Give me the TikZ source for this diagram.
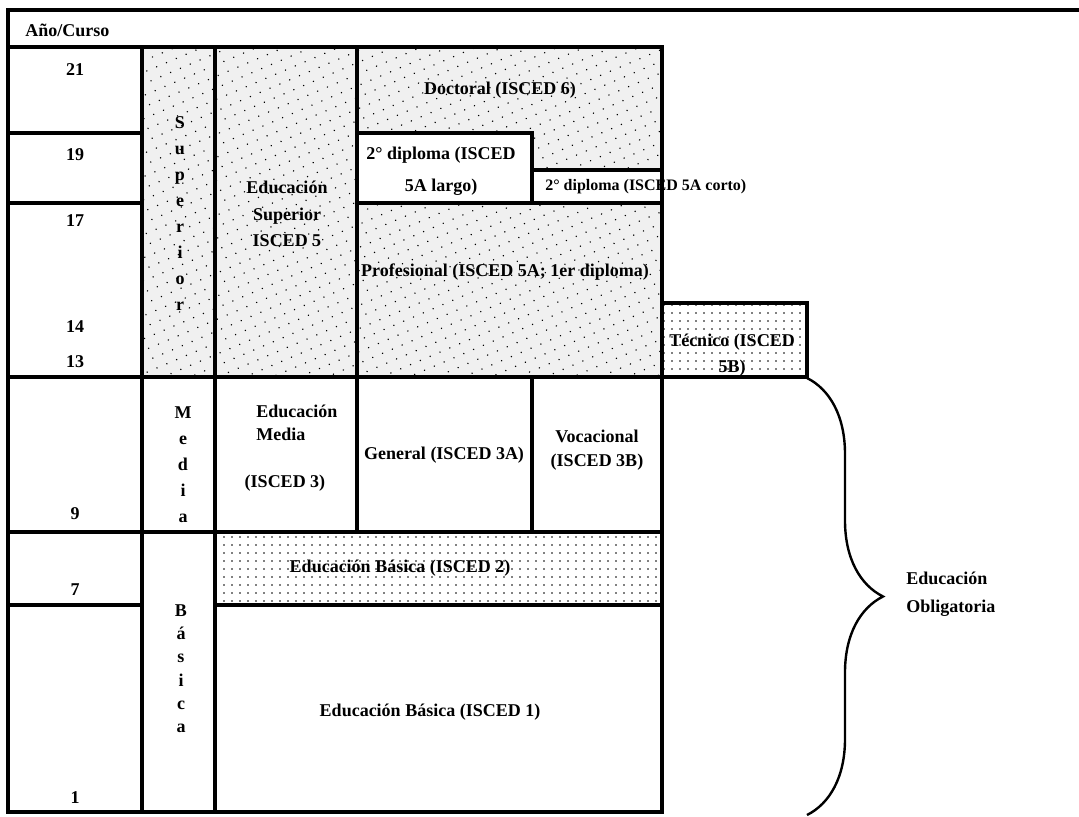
\documentclass[tikz,border=0pt]{standalone}
\usepackage{fontspec}
\setmainfont{Liberation Serif}
\usetikzlibrary{patterns.meta,decorations.pathreplacing}
\tikzset{
  cell/.style={draw, line width=3pt},
  stipple/.style={cell, preaction={fill=black!6}, pattern={Dots[distance=8pt,radius=.6pt,angle=23]}},
  dotfill/.style={cell, pattern={Dots[distance=6pt,radius=.7pt]}},
  lbl/.style={font=\bfseries\fontsize{13.5}{19}\selectfont, align=center, inner sep=0pt},
}
\begin{document}
\begin{tikzpicture}[x=0.75pt,y=-0.75pt]
            \useasboundingbox (0,0) rectangle (1079,817);
            \draw[cell] (1079,10) -- (8,10) -- (8,47) -- (662,47);
            \draw[cell] (8,47) rectangle (142,133);
            \draw[cell] (8,133) rectangle (142,203);
            \draw[cell] (8,203) rectangle (142,377);
            \draw[cell] (8,377) rectangle (142,532);
            \draw[cell] (8,532) rectangle (142,605);
            \draw[cell] (8,605) rectangle (142,812);
            \draw[stipple] (142,47) rectangle (215,377);
            \draw[cell] (142,377) rectangle (215,532);
            \draw[cell] (142,532) rectangle (215,812);
            \draw[stipple] (215,47) rectangle (357,377);
            \draw[cell] (215,377) rectangle (357,532);
            \draw[dotfill] (215,532) rectangle (662,605);
            \draw[cell] (215,605) rectangle (662,812);
            \draw[stipple] (357,47) rectangle (662,203);
            \draw[cell,fill=white] (357,133) rectangle (532,203);
            \draw[cell,fill=white] (532,170) rectangle (662,203);
            \draw[stipple] (357,203) rectangle (662,377);
            \draw[dotfill] (662,303) rectangle (807,377);
            \draw[cell] (357,377) rectangle (532,532);
            \draw[cell] (532,377) rectangle (662,532);
            \node[lbl,anchor=west] (curso) at (25,30) {Año/Curso};
            \node[lbl] (y21) at (75,70) {21};
            \node[lbl] (y19) at (75,155) {19};
            \node[lbl] (y17) at (75,221) {17};
            \node[lbl] (y14) at (75,327) {14};
            \node[lbl] (y13) at (75,362) {13};
            \node[lbl] (y9) at (75,514) {9};
            \node[lbl] (y7) at (75,590) {7};
            \node[lbl] (y1) at (75,798) {1};
            \node[lbl,anchor=north,font=\bfseries\fontsize{13.5}{19.5}\selectfont] (sup) at (180,116) {S\\u\\p\\e\\r\\i\\o\\r};
            \node[lbl,anchor=north,font=\bfseries\fontsize{13.5}{19.5}\selectfont] (med) at (183,406) {M\\e\\d\\i\\a};
            \node[lbl,anchor=north,font=\bfseries\fontsize{13.5}{17.5}\selectfont] (bas) at (181,604) {B\\á\\s\\i\\c\\a};
            \node[lbl,font=\bfseries\fontsize{13.5}{20}\selectfont] (edsup) at (287,214) {Educación\\Superior\\ISCED 5};
            \node[lbl] (doct) at (500,90) {Doctoral (ISCED 6)};
            \node[lbl,font=\bfseries\fontsize{13.5}{24}\selectfont] (largo) at (441,171) {2° diploma (ISCED\\5A largo)};
            \node[lbl,anchor=west,font=\bfseries\fontsize{12}{14}\selectfont] (corto) at (545,187) {2° diploma (ISCED 5A corto)};
            \node[lbl] (prof) at (505,272) {Profesional (ISCED 5A; 1er diploma)};
            \node[lbl] (tecn) at (732,355) {Técnico (ISCED\\5B)};
            \node[lbl,anchor=west,align=left,font=\bfseries\fontsize{13.5}{17}\selectfont] (edmed) at (256,423) {Educación\\Media};
            \node[lbl] (is3) at (285,483) {(ISCED 3)};
            \node[lbl] (gen) at (444,455) {General (ISCED 3A)};
            \node[lbl,font=\bfseries\fontsize{13.5}{18}\selectfont] (voc) at (597,450) {Vocacional\\(ISCED 3B)};
            \node[lbl] (is2) at (400,568) {Educación Básica (ISCED 2)};
            \node[lbl] (is1) at (430,712) {Educación Básica (ISCED 1)};
            \coordinate (bt) at (807,378);
            \coordinate (bb) at (807,815);
            \draw[line width=1.8pt,decorate,decoration={brace,amplitude=57pt}] (bt) -- (bb);
            \node[lbl,anchor=west,align=left,font=\bfseries\fontsize{13.5}{21}\selectfont] (oblig) at (906,594) {Educación\\Obligatoria};
\end{tikzpicture}
\end{document}
